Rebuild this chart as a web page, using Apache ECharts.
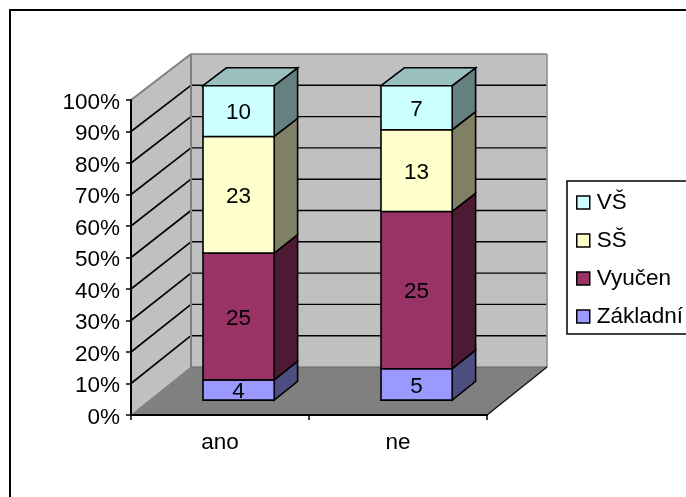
<!DOCTYPE html>
<html>
<head>
<meta charset="utf-8">
<style>html,body{margin:0;padding:0;background:#fff}#chart{width:686px;height:497px}</style>
<script src="https://cdn.jsdelivr.net/npm/echarts@6/dist/echarts.min.js"></script>
</head>
<body>
<div id="chart"></div>
<script>
// Survey counts per answer, split by education level
const categories = ['ano', 'ne'];
const zakladni = [4, 5];
const vyucen = [25, 25];
const ss = [23, 13];
const vs = [10, 7];
const yTicks = [0, 10, 20, 30, 40, 50, 60, 70, 80, 90, 100];

const levels = [
  { name: 'Základní', values: zakladni, front: '#9999FF', side: '#4D4D80', top: '#7373BF' },
  { name: 'Vyučen', values: vyucen, front: '#993366', side: '#4D1A33', top: '#73264D' },
  { name: 'SŠ', values: ss, front: '#FFFFCC', side: '#808066', top: '#BFBF99' },
  { name: 'VŠ', values: vs, front: '#CCFFFF', side: '#668080', top: '#99BFBF' }
];

// Plot box geometry: the front plane is the grid, the back wall is shifted from it
const GRID_LEFT = 131;
const GRID_TOP = 100;
const GRID_W = 356;
const GRID_H = 315;
const DEPTH_X = 60;
const DEPTH_Y_TOP = -46;    // shift of the top edge at full depth
const DEPTH_Y_BOTTOM = -48; // shift of the bottom edge at full depth
const BAR_NEAR = 0.31;      // bar front as a share of the box depth
const BAR_FAR = 0.70;       // bar back as a share of the box depth
const BAR_WIDTH = 0.4;      // bar width as a share of the category band
const FONT_SIZE = 22.5;
const FAMILY = '"Liberation Sans", Arial, sans-serif';
const TEXT_DROP = 2;        // value labels sit slightly below the optical middle

const totals = categories.map((_, i) => levels.reduce((sum, l) => sum + l.values[i], 0));

function at(p, depth) {
  const t = (p[1] - GRID_TOP) / GRID_H;
  const dy = DEPTH_Y_TOP + (DEPTH_Y_BOTTOM - DEPTH_Y_TOP) * t;
  return [p[0] + DEPTH_X * depth, p[1] + dy * depth];
}
function poly(points, fill, stroke, lineWidth) {
  return {
    type: 'polygon',
    shape: { points },
    style: { fill, stroke: stroke || 'none', lineWidth: lineWidth || 0, lineJoin: 'miter' }
  };
}
function line(a, b, stroke, lineWidth) {
  return {
    type: 'line',
    shape: { x1: a[0], y1: a[1], x2: b[0], y2: b[1] },
    style: { stroke, lineWidth }
  };
}

// Walls, floor and gridlines of the box
function renderBox(params, api) {
  const cs = params.coordSys;
  const y0 = api.coord([0, 0])[1];
  const y100 = api.coord([0, 100])[1];
  const L = cs.x, R = cs.x + cs.width;
  const kids = [];
  kids.push(poly([at([L, y100], 1), at([R, y100], 1), at([R, y0], 1), at([L, y0], 1)], '#C0C0C0'));
  kids.push(poly([[L, y100], at([L, y100], 1), at([L, y0], 1), [L, y0]], '#C0C0C0'));
  yTicks.forEach((t) => {
    if (t === 0 || t === 100) return;
    const y = api.coord([0, t])[1];
    kids.push(line([L, y], at([L, y], 1), '#000', 1.6));
    kids.push(line(at([L, y], 1), at([R, y], 1), '#000', 1.4));
  });
  kids.push(poly([[L, y0], [R, y0], at([R, y0], 1), at([L, y0], 1)], '#808080'));
  kids.push(line(at([L, y100], 1), at([R, y100], 1), '#808080', 1.6));
  kids.push(line(at([L, y100], 1), at([L, y0], 1), '#808080', 2));
  kids.push(line(at([R, y100], 1), at([R, y0], 1), '#909090', 1.6));
  kids.push(line([L, y100], at([L, y100], 1), '#808080', 2));
  kids.push(line([L, y0], at([L, y0], 1), '#808080', 1));
  kids.push(line(at([L, y0], 1), at([R, y0], 1), '#666', 1));
  kids.push(line([R, y0], at([R, y0], 1), '#111', 1.5));
  return { type: 'group', children: kids };
}

// One stacked segment: side face, optional top face, front face and value label
function renderSegment(params, api) {
  const i = api.value(0), from = api.value(1), to = api.value(2), raw = api.value(3);
  const c = levels[params.seriesIndex - 1];
  const half = api.size([1, 0])[0] * BAR_WIDTH / 2;
  const cx = api.coord([i, 0])[0];
  const yA = api.coord([i, from])[1];
  const yB = api.coord([i, to])[1];
  const fbl = at([cx - half, yA], BAR_NEAR), fbr = at([cx + half, yA], BAR_NEAR);
  const ftl = at([cx - half, yB], BAR_NEAR), ftr = at([cx + half, yB], BAR_NEAR);
  const bbr = at([cx + half, yA], BAR_FAR), btr = at([cx + half, yB], BAR_FAR);
  const btl = at([cx - half, yB], BAR_FAR);
  const kids = [poly([fbr, ftr, btr, bbr], c.side, '#000', 1.6)];
  if (to >= 99.999) kids.push(poly([ftl, btl, btr, ftr], c.top, '#000', 1.6));
  kids.push(poly([fbl, ftl, ftr, fbr], c.front, '#000', 1.6));
  kids.push({
    type: 'text',
    x: (fbl[0] + fbr[0]) / 2,
    y: (fbl[1] + ftl[1]) / 2 + TEXT_DROP,
    style: { text: String(raw), fill: '#000', font: FONT_SIZE + 'px ' + FAMILY, align: 'center', verticalAlign: 'middle' }
  });
  return { type: 'group', children: kids };
}

const running = categories.map(() => 0);
const barSeries = levels.map((l) => ({
  name: l.name,
  type: 'custom',
  coordinateSystem: 'cartesian2d',
  renderItem: renderSegment,
  clip: false,
  z: 10,
  silent: true,
  itemStyle: { color: l.front },
  encode: { x: 0, y: 2 },
  data: l.values.map((v, i) => {
    const from = running[i] / totals[i] * 100;
    running[i] += v;
    return [i, from, running[i] / totals[i] * 100, v];
  })
}));

const chart = echarts.init(document.getElementById('chart'), null, { renderer: 'canvas' });
chart.setOption({
  animation: false,
  backgroundColor: '#fff',
  textStyle: { fontFamily: FAMILY },
  grid: { left: GRID_LEFT, top: GRID_TOP, width: GRID_W, height: GRID_H, containLabel: false },
  xAxis: {
    type: 'category',
    data: categories,
    z: 5,
    axisLine: { lineStyle: { color: '#000', width: 2 } },
    axisTick: { show: true, alignWithLabel: false, length: 5, lineStyle: { color: '#000', width: 1.5 } },
    axisLabel: { color: '#000', fontSize: FONT_SIZE, margin: 16, fontFamily: FAMILY },
    splitLine: { show: false }
  },
  yAxis: {
    type: 'value',
    min: 0,
    max: 100,
    interval: 10,
    z: 5,
    axisLine: { show: true, lineStyle: { color: '#000', width: 2 } },
    axisTick: { show: true, length: 5, lineStyle: { color: '#000', width: 1.5 } },
    axisLabel: {
      color: '#000',
      fontSize: FONT_SIZE,
      margin: 11,
      verticalAlign: 'top',
      lineHeight: 22,
      padding: [-8.5, 0, 0, 0],
      formatter: '{value}%',
      fontFamily: FAMILY
    },
    splitLine: { show: false }
  },
  legend: {
    orient: 'vertical',
    left: 567,
    top: 181,
    padding: [10, 14, 6, 9],
    itemWidth: 13,
    itemHeight: 13,
    itemGap: 15,
    borderColor: '#000',
    borderWidth: 1.5,
    backgroundColor: '#fff',
    selectedMode: false,
    textStyle: { color: '#000', fontSize: FONT_SIZE, padding: [3, 0, 0, 2], fontFamily: FAMILY },
    data: levels.slice().reverse().map((l) => ({
      name: l.name,
      icon: 'rect',
      itemStyle: { color: l.front, borderColor: '#000', borderWidth: 1.5 }
    }))
  },
  graphic: [{
    type: 'polyline',
    silent: true,
    shape: { points: [[10, 520], [10, 10], [720, 10]] },
    style: { fill: 'none', stroke: '#000', lineWidth: 2 }
  }],
  series: [{
    name: 'box',
    type: 'custom',
    coordinateSystem: 'cartesian2d',
    renderItem: renderBox,
    clip: false,
    z: 1,
    silent: true,
    encode: { x: 0, y: 1 },
    data: [[0, 0]]
  }].concat(barSeries)
});
</script>
</body>
</html>
